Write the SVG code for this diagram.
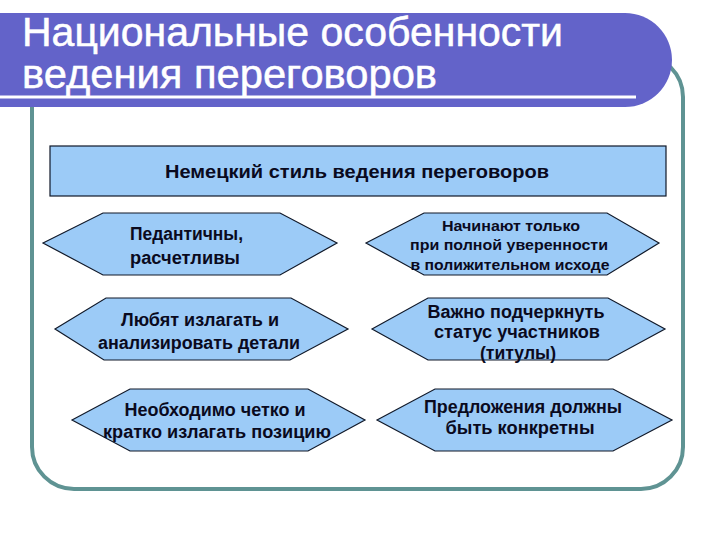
<svg xmlns="http://www.w3.org/2000/svg" width="720" height="540" viewBox="0 0 720 540">
<style>
.t{font-family:"Liberation Sans",Arial,sans-serif;font-weight:bold;fill:#0a0a1e;text-anchor:middle}
.hex{fill:#9ccbf7;stroke:#101828;stroke-width:1.2}
.title{font-family:"Liberation Sans",Arial,sans-serif;fill:#ffffff;font-size:40px;stroke:#ffffff;stroke-width:0.5}
</style>
<rect x="0" y="0" width="720" height="540" fill="#ffffff"/>
<g id="frame">
<rect x="32" y="55" width="651" height="434" rx="42" ry="42" fill="none" stroke="#5f9393" stroke-width="4"/>
</g>
<g id="banner">
<path d="M0,13 H625 A47,47 0 0 1 625,107 H0 Z" fill="#6363c9"/>
<line x1="0" y1="97" x2="636" y2="97" stroke="#ffffff" stroke-width="3"/>
<text class="title" x="22" y="46" textLength="541" lengthAdjust="spacingAndGlyphs">Национальные особенности</text>
<text class="title" x="22" y="88" textLength="415" lengthAdjust="spacingAndGlyphs">ведения переговоров</text>
</g>
<g id="header">
<rect x="50" y="146" width="616" height="50" fill="#9ccbf7" stroke="#101828" stroke-width="1.2"/>
<text class="t" x="357" y="178" font-size="17.5" textLength="384" lengthAdjust="spacingAndGlyphs">Немецкий стиль ведения переговоров</text>
</g>
<g id="n1">
<polygon class="hex" points="43,243 103,213 280,213 337,243 280,275 103,275"/>
<text class="t" x="130" y="240" font-size="17.5" style="text-anchor:start" textLength="113" lengthAdjust="spacingAndGlyphs">Педантичны,</text>
<text class="t" x="130" y="264" font-size="17.5" style="text-anchor:start" textLength="110" lengthAdjust="spacingAndGlyphs">расчетливы</text>
</g>
<g id="n2">
<polygon class="hex" points="366,243 424,213 607,213 659,243 607,275 424,275"/>
<text class="t" x="511" y="231" font-size="15" textLength="138" lengthAdjust="spacingAndGlyphs">Начинают только</text>
<text class="t" x="509" y="250" font-size="15" textLength="198" lengthAdjust="spacingAndGlyphs">при полной уверенности</text>
<text class="t" x="510" y="270" font-size="15" textLength="199" lengthAdjust="spacingAndGlyphs">в полижительном исходе</text>
</g>
<g id="n3">
<polygon class="hex" points="55,329 106,298 291,298 348,329 290,360 104,360"/>
<text class="t" x="200" y="326" font-size="17.5" textLength="158" lengthAdjust="spacingAndGlyphs">Любят излагать и</text>
<text class="t" x="199" y="349" font-size="17.5" textLength="202" lengthAdjust="spacingAndGlyphs">анализировать детали</text>
</g>
<g id="n4">
<polygon class="hex" points="372,329 428,298 608,298 665,329 608,360 428,360"/>
<text class="t" x="516" y="318" font-size="17.5" textLength="177" lengthAdjust="spacingAndGlyphs">Важно подчеркнуть</text>
<text class="t" x="517" y="338" font-size="17.5" textLength="166" lengthAdjust="spacingAndGlyphs">статус участников</text>
<text class="t" x="518" y="359" font-size="17.5" textLength="76" lengthAdjust="spacingAndGlyphs">(титулы)</text>
</g>
<g id="n5">
<polygon class="hex" points="72,420 130,389 308,389 365,420 308,451 130,451"/>
<text class="t" x="215" y="416" font-size="17.5" textLength="181" lengthAdjust="spacingAndGlyphs">Необходимо четко и</text>
<text class="t" x="217" y="438" font-size="17.5" textLength="228" lengthAdjust="spacingAndGlyphs">кратко излагать позицию</text>
</g>
<g id="n6">
<polygon class="hex" points="377,420 435,389 613,389 672,420 613,451 435,451"/>
<text class="t" x="523" y="413" font-size="17.5" textLength="198" lengthAdjust="spacingAndGlyphs">Предложения должны</text>
<text class="t" x="520" y="434" font-size="17.5" textLength="149" lengthAdjust="spacingAndGlyphs">быть конкретны</text>
</g>
<g id="connectors"></g>
</svg>
